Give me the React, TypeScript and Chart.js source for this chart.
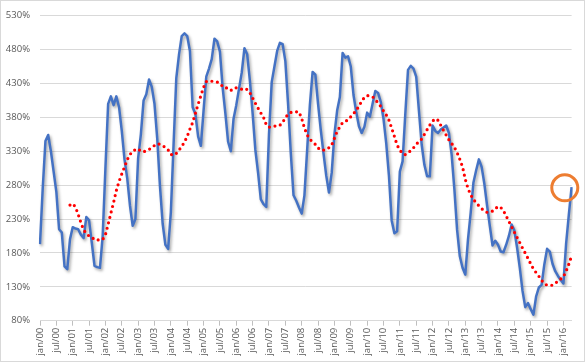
import React, { useEffect, useRef } from 'react';
import { Chart, registerables } from 'chart.js';

Chart.register(...registerables);

// ---- data ----
const startYear = 2000;
const monthNames = ['jan', 'fev', 'mar', 'abr', 'mai', 'jun', 'jul', 'ago', 'set', 'out', 'nov', 'dez'];

// monthly values, jan/00 .. apr/16 (%)
const ratioValues = [
  193, 275, 345, 354, 330, 300, 270, 215, 210, 160, 156, 200,
  218, 216, 215, 207, 202, 233, 228, 195, 161, 159, 158, 205,
  305, 400, 411, 398, 411, 395, 360, 318, 290, 250, 220, 230,
  320, 355, 405, 414, 436, 425, 400, 349, 279, 223, 192, 186,
  240, 340, 438, 473, 500, 504, 500, 478, 395, 385, 352, 338,
  390, 440, 452, 466, 496, 492, 477, 424, 386, 344, 330, 378,
  398, 422, 446, 482, 473, 434, 386, 332, 298, 259, 252, 248,
  355, 432, 455, 478, 490, 488, 463, 400, 327, 265, 257, 247,
  238, 265, 332, 398, 447, 443, 400, 361, 327, 294, 269, 298,
  355, 390, 410, 475, 468, 470, 455, 413, 388, 367, 357, 366,
  387, 381, 400, 419, 416, 403, 378, 342, 294, 228, 209, 212,
  300, 315, 385, 450, 456, 452, 440, 390, 340, 310, 293, 293,
  368, 360, 357, 362, 365, 368, 357, 325, 274, 214, 175, 158,
  148, 200, 240, 284, 302, 318, 307, 282, 250, 220, 191, 198,
  192, 182, 181, 192, 205, 222, 213, 188, 158, 124, 100, 106,
  97, 89, 116, 129, 133, 163, 186, 182, 164, 153, 146, 140,
  135, 194, 237, 277,
];

// moving-average trendline period (months)
const trendPeriod = 12;

// highlighted spot (category position, value)
const highlightIndex = [192.5];
const highlightValue = [276];

const yTicks = [80, 130, 180, 230, 280, 330, 380, 430, 480, 530];

const categories = ratioValues.map(
  (_, i) => `${monthNames[i % 12]}/${String((startYear + Math.floor(i / 12)) % 100).padStart(2, '0')}`
);

const trendValues = ratioValues.map((_, i) => {
  if (i < trendPeriod - 1) return null;
  let s = 0;
  for (let k = i - trendPeriod + 1; k <= i; k++) s += ratioValues[k];
  return s / trendPeriod;
});

const FONT = { family: '"Open Sans", "Liberation Sans", sans-serif', size: 9.5 };
const TEXT = '#595959';

const frame = {
  id: 'frame',
  beforeDraw(chart: any) {
    const { ctx, width, height } = chart;
    ctx.save();
    ctx.fillStyle = '#ffffff';
    ctx.fillRect(0, 0, width, height);
    ctx.strokeStyle = '#d9d9d9';
    ctx.lineWidth = 1;
    ctx.strokeRect(0.5, 0.5, width - 1, height - 1);
    ctx.restore();
  },
};

const shadow = {
  id: 'lineShadow',
  beforeDatasetDraw(chart: any, args: any) {
    if (args.index !== 1) return;
    const ctx = chart.ctx;
    ctx.save();
    ctx.shadowColor = 'rgba(0,0,0,0.35)';
    ctx.shadowBlur = 3;
    ctx.shadowOffsetX = 1.5;
    ctx.shadowOffsetY = 2;
  },
  afterDatasetDraw(chart: any, args: any) {
    if (args.index !== 1) return;
    chart.ctx.restore();
  },
};

const highlight = {
  id: 'highlight',
  afterDraw(chart: any) {
    const { ctx, scales } = chart;
    ctx.save();
    ctx.strokeStyle = '#ED7D31';
    ctx.lineWidth = 3;
    highlightIndex.forEach((hi, k) => {
      const x = scales.x.getPixelForValue(hi);
      const y = scales.y.getPixelForValue(highlightValue[k]);
      ctx.beginPath();
      ctx.arc(x, y, 13, 0, Math.PI * 2);
      ctx.stroke();
    });
    ctx.restore();
  },
};

export default function App() {
  const ref = useRef<HTMLCanvasElement | null>(null);

  useEffect(() => {
    document.body.style.margin = '0';
    const canvas = ref.current;
    if (!canvas) return;
    const chart = new Chart(canvas, {
      type: 'line',
      data: {
        labels: categories,
        datasets: [
          {
            label: 'Média móvel 12 meses',
            data: trendValues,
            borderColor: '#FF0000',
            borderWidth: 3.2,
            borderDash: [0, 5.6],
            borderCapStyle: 'round',
            pointRadius: 0,
            tension: 0,
            fill: false,
            order: 0,
            spanGaps: false,
          },
          {
            label: 'Valor',
            data: ratioValues,
            borderColor: '#4472C4',
            borderWidth: 2.5,
            borderJoinStyle: 'round',
            pointRadius: 0,
            tension: 0,
            fill: false,
            order: 1,
          },
        ],
      },
      options: {
        animation: false,
        responsive: false,
        maintainAspectRatio: false,
        devicePixelRatio: 1,
        layout: { padding: { top: 10.5, right: 9.3, left: 0, bottom: 0 } },
        plugins: {
          legend: { display: false },
          tooltip: { enabled: false },
        },
        scales: {
          x: {
            type: 'category',
            offset: false,
            grid: {
              display: true,
              drawOnChartArea: false,
              tickLength: 5,
              color: (c: any) => (c.index % 6 === 0 ? '#bfbfbf' : 'rgba(0,0,0,0)'),
            },
            border: { display: true, color: '#d9d9d9' },
            ticks: {
              autoSkip: false,
              maxRotation: 90,
              minRotation: 90,
              padding: 2,
              font: FONT,
              color: TEXT,
              callback: (_v: any, i: number) => (i % 6 === 0 ? categories[i] : ''),
            },
            afterFit: (s: any) => {
              s.height = 41.3;
            },
          },
          y: {
            min: yTicks[0],
            max: yTicks[yTicks.length - 1],
            afterBuildTicks: (s: any) => {
              s.ticks = yTicks.map((v) => ({ value: v }));
            },
            ticks: {
              padding: 10,
              font: FONT,
              color: TEXT,
              callback: (v: any) => `${v}%`,
            },
            grid: { color: '#d9d9d9', drawTicks: false },
            border: { display: false },
            afterFit: (s: any) => {
              s.width = 40;
            },
          },
        },
      },
      plugins: [frame, shadow, highlight],
    } as any);
    return () => chart.destroy();
  }, []);

  return (
    <div style={{ position: 'fixed', left: 0, top: 0, width: 585, height: 362 }}>
      <canvas ref={ref} width={585} height={362} style={{ width: 585, height: 362, display: 'block' }} />
    </div>
  );
}
